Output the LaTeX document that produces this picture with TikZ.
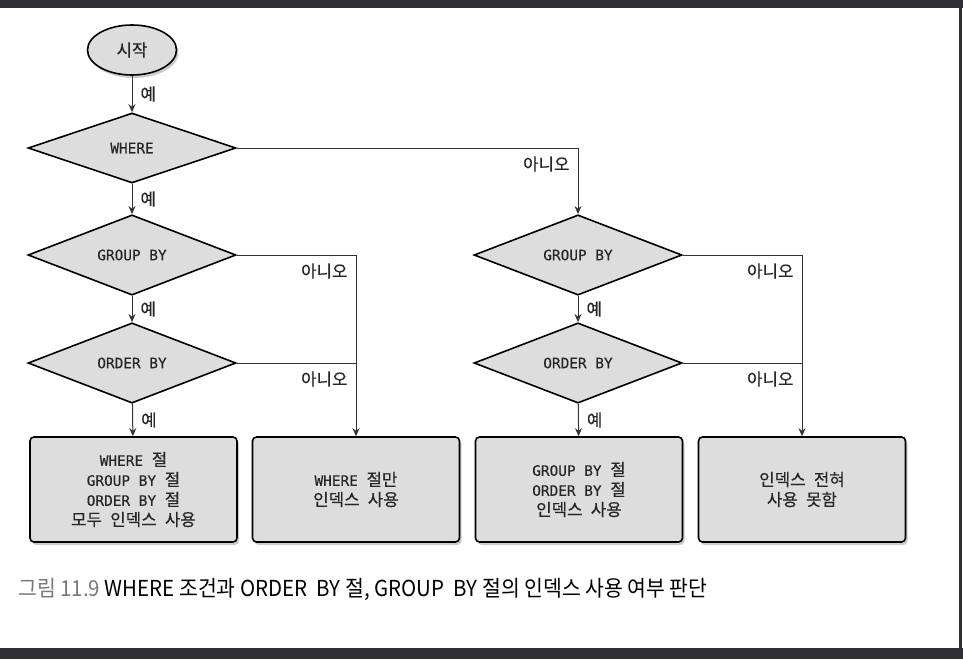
\documentclass[tikz,border=0pt]{standalone}
\usepackage{fontspec}
\setmainfont{DejaVu Sans Mono}[FakeBold=0.3]
\newfontfamily\hgfont{Noto Sans CJK KR}[WordSpace=2.2,FakeBold=0.3]
\newfontfamily\capfont{Noto Sans CJK KR}[FakeStretch=0.93]
\newcommand\hg[1]{{\hgfont\fontsize{16.8pt}{20pt}\selectfont #1}}
\usetikzlibrary{shapes.geometric,shadows,positioning,arrows.meta}

\definecolor{barcol}{RGB}{48,49,53}
\definecolor{shapefill}{RGB}{221,221,221}
\definecolor{capgray}{RGB}{120,120,120}

\tikzset{
	startnode/.style={ellipse,draw,line width=1.6pt,fill=shapefill,
		minimum width=89pt,minimum height=50pt,inner sep=0pt,text=black!85,
		drop shadow={shadow xshift=2pt,shadow yshift=-3pt,fill=black!40}},
	decision/.style={diamond,draw,line width=1.6pt,fill=shapefill,
		minimum width=208pt,minimum height=70pt,inner sep=0pt,text=black!85},
	result/.style={rectangle,draw,line width=1.6pt,fill=shapefill,
		rounded corners=4pt,minimum width=207pt,minimum height=105pt,
		align=center,text=black!85,
		drop shadow={shadow xshift=2pt,shadow yshift=-3pt,fill=black!40}},
	flow/.style={line width=1pt,draw=black!80},
	yes/.style={right=8pt,inner sep=0pt,text=black!85},
	no/.style={below left=8pt and 8pt,inner sep=0pt,text=black!85},
}

\begin{document}
\begin{tikzpicture}[>={Stealth[length=8pt,width=7pt]},x=1pt,y=-1pt,
	font=\fontsize{14.4}{20}\selectfont]
\useasboundingbox (0,0) rectangle (963,659);
% page frame
\fill[barcol] (0,0) rectangle (963,8);
\fill[barcol] (0,648) rectangle (963,659);
\fill[barcol] (959,8) rectangle (962,648);

% nodes
\node[startnode] (start) at (132,50) {\hg{시작}};
\node[decision] (where) at (132,148) {WHERE};
\node[decision] (groupL) at (132,255) {GROUP BY};
\node[decision] (orderL) at (132,363) {ORDER BY};
\node[decision] (groupR) at (578,255) {GROUP BY};
\node[decision] (orderR) at (578,363) {ORDER BY};
\node[result] (allidx) at (133.5,489.5)
	{WHERE \hg{절}\\GROUP BY \hg{절}\\ORDER BY \hg{절}\\\hg{모두 인덱스 사용}};
\node[result] (whereidx) at (356,489.5) {WHERE \hg{절만}\\\hg{인덱스 사용}};
\node[result] (gobyidx) at (579,489.5)
	{GROUP BY \hg{절}\\ORDER BY \hg{절}\\\hg{인덱스 사용}};
\node[result] (noidx) at (802,489.5) {\hg{인덱스 전혀}\\\hg{사용 못함}};

% connectors
\draw[flow,->] (start) -- node[yes] {\hg{예}} (where);
\draw[flow,->] (where) -- node[yes] {\hg{예}} (groupL);
\draw[flow,->] (groupL) -- node[yes] {\hg{예}} (orderL);
\draw[flow,->] (orderL) -- node[yes] {\hg{예}} (allidx);
\draw[flow,->] (groupR) -- node[yes] {\hg{예}} (orderR);
\draw[flow,->] (orderR) -- node[yes] {\hg{예}} (gobyidx);

\draw[flow,->] (where.east) -| node[pos=0.5,no] {\hg{아니오}} (groupR.north);
\draw[flow,->] (groupL.east) -| node[pos=0.5,no] {\hg{아니오}} (whereidx.north);
\draw[flow] (orderL.east) -- node[pos=1,no] {\hg{아니오}} (orderL.east -| whereidx.north);
\draw[flow,->] (groupR.east) -| node[pos=0.5,no] {\hg{아니오}} (noidx.north);
\draw[flow] (orderR.east) -- node[pos=1,no] {\hg{아니오}} (orderR.east -| noidx.north);

% caption
\node[anchor=base west,inner sep=0pt] (caption) at (18,596)
	{\capfont\fontsize{22}{24}\selectfont\textcolor{capgray}{그림 11.9} WHERE 조건과 ORDER\ \ BY 절, GROUP\ \ BY 절의 인덱스 사용 여부 판단};
\end{tikzpicture}
\end{document}
